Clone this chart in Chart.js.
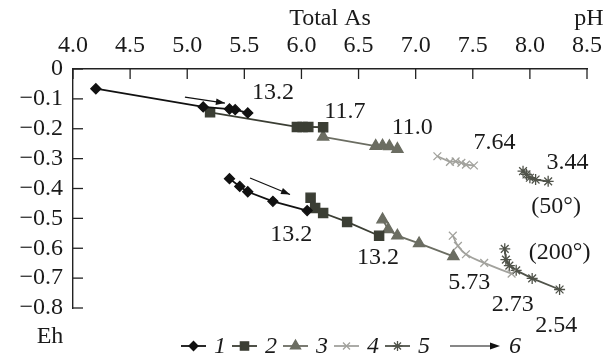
<!DOCTYPE html>
<html>
<head>
<meta charset="utf-8">
<script src="https://cdn.jsdelivr.net/npm/chart.js@4.4.1/dist/chart.umd.min.js"></script>
<style>
  html, body { margin: 0; padding: 0; background: #fff; }
  canvas { display: block; }
</style>
</head>
<body>
<canvas id="ehChart" width="611" height="362"></canvas>
<script>
// ── Data (pH vs Eh) ──
const xTicks = [4.0, 4.5, 5.0, 5.5, 6.0, 6.5, 7.0, 7.5, 8.0, 8.5];
const yTicks = [0, -0.1, -0.2, -0.3, -0.4, -0.5, -0.6, -0.7, -0.8];

// 1: diamonds
const s1UpperPH = [4.20, 5.14, 5.37, 5.42, 5.53];
const s1UpperEh = [-0.066, -0.127, -0.134, -0.136, -0.147];
const s1LowerPH = [5.37, 5.46, 5.53, 5.75, 6.05];
const s1LowerEh = [-0.367, -0.393, -0.411, -0.443, -0.474];
// 2: squares
const s2UpperPH = [5.20, 5.96, 6.01, 6.06, 6.19];
const s2UpperEh = [-0.145, -0.194, -0.194, -0.194, -0.195];
const s2LowerPH = [6.08, 6.12, 6.19, 6.40, 6.68];
const s2LowerEh = [-0.431, -0.465, -0.482, -0.512, -0.558];
// 3: triangles
const s3UpperPH = [6.19, 6.65, 6.71, 6.77, 6.84];
const s3UpperEh = [-0.227, -0.258, -0.257, -0.259, -0.268];
const s3LowerPH = [6.71, 6.76, 6.84, 7.03, 7.33];
const s3LowerEh = [-0.504, -0.537, -0.558, -0.584, -0.627];
// 4: crosses
const s4UpperPH = [7.19, 7.30, 7.35, 7.40, 7.44, 7.51];
const s4UpperEh = [-0.292, -0.311, -0.309, -0.314, -0.320, -0.323];
const s4LowerPH = [7.325, 7.37, 7.44, 7.60, 7.84];
const s4LowerEh = [-0.558, -0.592, -0.620, -0.649, -0.685];
// 5: asterisks
const s5UpperPH = [7.94, 7.97, 8.00, 8.05, 8.16];
const s5UpperEh = [-0.342, -0.353, -0.364, -0.370, -0.376];
const s5LowerPH = [7.78, 7.79, 7.82, 7.88, 8.02, 8.26];
const s5LowerEh = [-0.602, -0.638, -0.658, -0.674, -0.701, -0.738];
// 6: direction arrows
const arrowUpPH = [4.98, 5.33];
const arrowUpEh = [-0.094, -0.114];
const arrowLowPH = [5.55, 5.90];
const arrowLowEh = [-0.365, -0.420];

// Total As labels and temperature notes
const noteText = ['13.2', '11.7', '11.0', '7.64', '3.44', '(50°)', '(200°)', '13.2', '13.2', '5.73', '2.73', '2.54'];
const notePH   = [5.75, 6.38, 6.97, 7.69, 8.33, 8.23, 8.26, 5.91, 6.67, 7.47, 7.85, 8.23];
const noteEh   = [-0.080, -0.142, -0.197, -0.248, -0.313, -0.460, -0.615, -0.554, -0.632, -0.715, -0.788, -0.859];

const legendText = ['1', '2', '3', '4', '5', '6'];

const C1 = '#111111', C2 = '#3b3e34', C3 = '#6b6d62', C4 = '#a2a29d', C5 = '#50534a';
const FONT = '"Liberation Serif", "DejaVu Serif", serif';

function pts(xs, ys) { return xs.map((x, i) => ({ x: x, y: ys[i] })); }

function series(xs, ys, color, style, radius, extra) {
  return Object.assign({
    data: pts(xs, ys),
    showLine: true,
    borderColor: color,
    backgroundColor: color,
    pointBackgroundColor: color,
    pointBorderColor: color,
    pointStyle: style,
    pointRadius: radius,
    pointBorderWidth: 1.3,
    borderWidth: 1.8,
    tension: 0,
  }, extra || {});
}

const datasets = [
  series(s1UpperPH, s1UpperEh, C1, 'rectRot', 5),
  series(s1LowerPH, s1LowerEh, C1, 'rectRot', 5),
  series(s2UpperPH, s2UpperEh, C2, 'rect', 6.5),
  series(s2LowerPH, s2LowerEh, C2, 'rect', 6.5),
  series(s3UpperPH, s3UpperEh, C3, 'triangle', 6.5),
  series(s3LowerPH, s3LowerEh, C3, 'triangle', 6.5),
  series(s4UpperPH, s4UpperEh, C4, 'crossRot', 5.5),
  series(s4LowerPH, s4LowerEh, C4, 'crossRot', 5.5, { tension: 0.45 }),
  series(s5UpperPH, s5UpperEh, C5, 'star', 5.5),
  series(s5LowerPH, s5LowerEh, C5, 'star', 5.5),
  series(arrowUpPH, arrowUpEh, C1, 'circle', 0, { borderWidth: 1.2, isArrow: true }),
  series(arrowLowPH, arrowLowEh, C1, 'circle', 0, { borderWidth: 1.2, isArrow: true }),
];

function arrowHead(ctx, x0, y0, x1, y1, len, half) {
  const a = Math.atan2(y1 - y0, x1 - x0);
  ctx.beginPath();
  ctx.moveTo(x1, y1);
  ctx.lineTo(x1 - len * Math.cos(a) + half * Math.sin(a), y1 - len * Math.sin(a) - half * Math.cos(a));
  ctx.lineTo(x1 - len * Math.cos(a) - half * Math.sin(a), y1 - len * Math.sin(a) + half * Math.cos(a));
  ctx.closePath();
  ctx.fill();
}

// inward tick marks, arrowheads, notes, legend, axis names
const decor = {
  id: 'decor',
  afterDraw(chart) {
    const ctx = chart.ctx;
    const xs = chart.scales.x, ys = chart.scales.y;
    const area = chart.chartArea;
    ctx.save();
    ctx.strokeStyle = '#222';
    ctx.lineWidth = 1.3;
    xTicks.forEach(v => {
      const px = xs.getPixelForValue(v);
      ctx.beginPath(); ctx.moveTo(px, area.top); ctx.lineTo(px, area.top + 10); ctx.stroke();
    });
    yTicks.forEach(v => {
      const py = ys.getPixelForValue(v);
      ctx.beginPath(); ctx.moveTo(area.left, py); ctx.lineTo(area.left + 10, py); ctx.stroke();
    });

    // arrowheads on the direction arrows
    ctx.fillStyle = C1;
    chart.data.datasets.forEach((ds, i) => {
      if (!ds.isArrow) return;
      const m = chart.getDatasetMeta(i).data;
      const p0 = m[m.length - 2], p1 = m[m.length - 1];
      arrowHead(ctx, p0.x, p0.y, p1.x, p1.y, 9, 3.2);
    });

    // notes
    ctx.fillStyle = '#1a1a1a';
    ctx.font = '24px ' + FONT;
    ctx.textAlign = 'center';
    ctx.textBaseline = 'middle';
    noteText.forEach((t, i) => {
      ctx.fillText(t, xs.getPixelForValue(notePH[i]), ys.getPixelForValue(noteEh[i]));
    });

    // axis names
    ctx.fillText('pH', xs.getPixelForValue(8.5) + 2, 19);
    ctx.fillText('Eh', 50, 337);

    // legend
    const styles = [['rectRot', C1, 5], ['rect', C2, 6.5], ['triangle', C3, 6.5], ['crossRot', C4, 5.5], ['star', C5, 5.5]];
    const ly = 346;
    let lx = 181;
    ctx.font = 'italic 24px ' + FONT;
    ctx.textAlign = 'center';
    styles.forEach((s, i) => {
      ctx.strokeStyle = s[1];
      ctx.lineWidth = 1.8;
      ctx.beginPath(); ctx.moveTo(lx, ly); ctx.lineTo(lx + 25, ly); ctx.stroke();
      ctx.fillStyle = s[1];
      ctx.lineWidth = 1.3;
      Chart.helpers.drawPoint(ctx, { pointStyle: s[0], radius: s[2] * 0.9, borderWidth: 1.3 }, lx + 12.5, ly);
      ctx.fillStyle = '#1a1a1a';
      ctx.fillText(legendText[i], lx + 39, ly + 1);
      lx += 51;
    });
    ctx.strokeStyle = C1;
    ctx.lineWidth = 1.2;
    ctx.beginPath(); ctx.moveTo(450, ly); ctx.lineTo(495, ly); ctx.stroke();
    ctx.fillStyle = C1;
    arrowHead(ctx, 450, ly, 500, ly, 10, 3.5);
    ctx.fillStyle = '#1a1a1a';
    ctx.fillText(legendText[5], 515, ly + 1);
    ctx.restore();
  }
};

new Chart(document.getElementById('ehChart'), {
  type: 'scatter',
  data: { datasets: datasets },
  options: {
    responsive: false,
    animation: false,
    devicePixelRatio: 1,
    layout: { padding: { left: 0, top: 0, right: 23, bottom: 54 } },
    plugins: { legend: { display: false }, tooltip: { enabled: false } },
    scales: {
      x: {
        type: 'linear',
        position: 'top',
        min: 4.0, max: 8.5,
        afterBuildTicks: s => { s.ticks = xTicks.map(v => ({ value: v })); },
        afterFit: s => { s.height = 69; },
        ticks: {
          color: '#1a1a1a', padding: 9, autoSkip: false, maxRotation: 0,
          font: { family: FONT, size: 24 },
          callback: v => Number(v).toFixed(1),
        },
        title: {
          display: true, text: 'Total As', color: '#1a1a1a',
          font: { family: FONT, size: 24 }, padding: { top: 4, bottom: 0 },
        },
        grid: { drawOnChartArea: false, drawTicks: false },
        border: { display: true, color: '#222', width: 1.4 },
      },
      y: {
        type: 'linear',
        min: -0.8, max: 0,
        afterBuildTicks: s => { s.ticks = yTicks.map(v => ({ value: v })); },
        afterFit: s => { s.width = 73; },
        ticks: {
          color: '#1a1a1a', padding: 10, autoSkip: false,
          font: { family: FONT, size: 24 },
          callback: v => Math.abs(v) < 1e-9 ? '0' : '\u2212' + Math.abs(v).toFixed(1),
        },
        grid: { drawOnChartArea: false, drawTicks: false },
        border: { display: true, color: '#222', width: 1.4 },
      }
    }
  },
  plugins: [decor]
});
</script>
</body>
</html>
